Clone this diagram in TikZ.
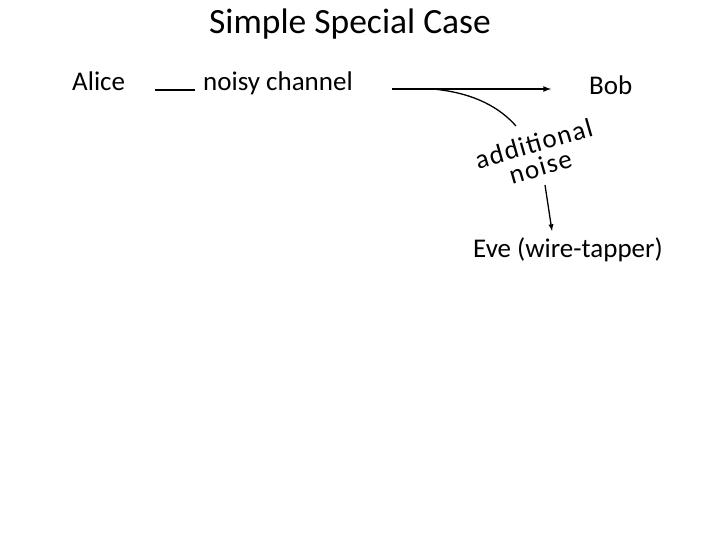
\documentclass[tikz,border=0pt]{standalone}
\usepackage{fontspec}
\setmainfont{Carlito}
\tikzset{
  lbl/.style={inner sep=0, font=\fontsize{27}{32}\selectfont},
  ttl/.style={inner sep=0, font=\fontsize{35.5}{40}\selectfont},
  wire/.style={line width=1.6pt},
}
\begin{document}
\begin{tikzpicture}[x=1pt, y=-1pt]
      \useasboundingbox (0,0) rectangle (720,540);
      % TITLE
      \node[ttl, anchor=base] (title) at (350,34) {Simple Special Case};
      % PARTIES
      \node[lbl, anchor=base west] (alice) at (72,91) {Alice};
      \node[lbl, anchor=base west] (chan) at (203,91) {noisy channel};
      \node[lbl, anchor=base west] (bob) at (589,95) {Bob};
      \node[lbl, anchor=base west] (eve) at (473,258) {Eve (wire-tapper)};
      % NOISE LABEL
      \node[lbl, rotate=16, align=center,
            font=\fontsize{27}{24}\selectfont\addfontfeature{LetterSpace=5}]
            (noise) at (537,155) {additional\\noise};
      % WIRES
      \coordinate (ain) at (155,90);
      \coordinate (aout) at (195,90);
      \coordinate (cin) at (392,89);
      \coordinate (cout) at (551,89);
      \coordinate (tap) at (433,89);
      \coordinate (tapend) at (516,126);
      \coordinate (evein) at (545,185);
      \draw[wire] (ain) -- (aout);
      \draw[wire, -latex] (cin) -- (cout);
      \draw[line width=1.3pt] (tap) .. controls (475,93) and (500,108) .. (tapend);
      \draw[line width=1.3pt, -latex] (evein) -- (552,231);
    \end{tikzpicture}
\end{document}
